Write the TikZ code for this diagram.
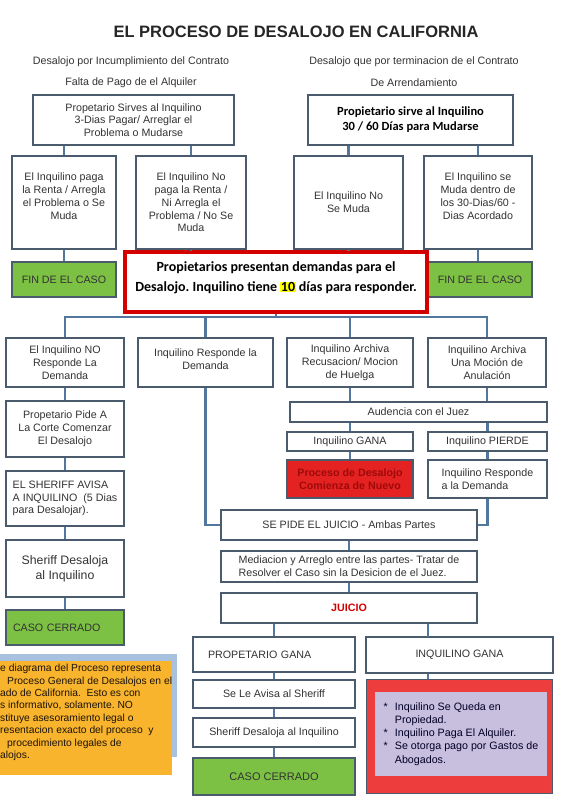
\documentclass[tikz,border=0pt]{standalone}
\usepackage{fontspec}
\setmainfont{Liberation Sans}
\newfontfamily\cali{Carlito}
\definecolor{boxline}{HTML}{4B5B6E}
\definecolor{linkblue}{HTML}{52779F}
\definecolor{inkgray}{HTML}{333333}
\definecolor{grass}{HTML}{7CC144}
\definecolor{alertred}{HTML}{D40000}
\definecolor{nuevored}{HTML}{E52222}
\definecolor{nuevotxt}{HTML}{9E0A0A}
\definecolor{ganared}{HTML}{EE3D3D}
\definecolor{lavender}{HTML}{C8BEDD}
\definecolor{notegold}{HTML}{F8B42C}
\definecolor{noteblue}{HTML}{A7C1DF}
\definecolor{hilite}{HTML}{FFFF00}
\setlength{\fboxsep}{0.6pt}
\frenchspacing

\begin{document}
\begin{tikzpicture}[
  x=1pt, y=-1pt,
  wbox/.style={draw=boxline, line width=1.6pt, fill=white, text=inkgray,
    align=center, inner sep=2pt, font=\fontsize{10.7}{12.8}\selectfont},
  grnbox/.style={wbox, fill=grass},
  link/.style={draw=linkblue, line width=2.8pt},
  hdlbl/.style={font=\fontsize{10.7}{12.8}\selectfont, text=inkgray},
]

% Background
\fill[white] (0,0) rectangle (567,810);
\useasboundingbox (0,0) rectangle (567,810);

% Title
\node[font=\fontsize{16.5}{20}\selectfont\bfseries, text=black!85] (title) at (296,32)
  {EL PROCESO DE DESALOJO EN CALIFORNIA};

\node[hdlbl] (subA) at (131,62) {Desalojo por Incumplimiento del Contrato};
\node[hdlbl] (subB) at (414,62) {Desalojo que por terminacion de el Contrato};
\node[hdlbl] (subA2) at (131,83) {Falta de Pago de el Alquiler};
\node[hdlbl] (subB2) at (414,83) {De Arrendamiento};

% =============================================
% Aviso al inquilino
% =============================================
\node[wbox, minimum width=201, minimum height=50] (propA) at (133.5,120)
  {Propetario Sirves al Inquilino\\3-Dias Pagar/ Arreglar el\\Problema o Mudarse};
\node[wbox, minimum width=205, minimum height=50, text=black,
      font=\cali\bfseries\fontsize{12.5}{15}\selectfont] (propB) at (410.5,120)
  {Propietario sirve al Inquilino\\30 / 60 Días para Mudarse};

\node[wbox, minimum width=104, minimum height=93] (paga) at (64,202.5)
  {El Inquilino paga\\la Renta / Arregla\\el Problema o Se\\Muda\\ \mbox{}};
\node[wbox, minimum width=110, minimum height=93] (nopaga) at (191,202.5)
  {El Inquilino No\\paga la Renta /\\Ni Arregla el\\Problema / No Se\\Muda};
\node[wbox, minimum width=109, minimum height=93] (nomuda) at (348.5,202.5)
  {El Inquilino No\\Se Muda};
\node[wbox, minimum width=108, minimum height=93] (semuda) at (478,202.5)
  {El Inquilino se\\Muda dentro de\\los 30-Dias/60 -\\Dias Acordado\\ \mbox{}};

\node[grnbox, minimum width=104, minimum height=35] (finA) at (64,279.5) {FIN DE EL CASO};
\node[grnbox, minimum width=104, minimum height=35] (finB) at (480,279.5) {FIN DE EL CASO};

\node[wbox, draw=alertred, line width=3.2pt, minimum width=302, minimum height=60, text=black,
      font=\cali\bfseries\fontsize{14}{20}\selectfont] (demanda) at (276,282)
  {Propietarios presentan demandas para el\\Desalojo. Inquilino tiene \colorbox{hilite}{10} días para responder.\\[-9pt]\mbox{}};

\draw[link] (propA.south -| paga.north) -- (paga.north);
\draw[link] (propA.south -| nopaga.north) -- (nopaga.north);
\draw[link] (propB.south -| nomuda.north) -- (nomuda.north);
\draw[link] (propB.south -| semuda.north) -- (semuda.north);
\draw[link] (paga.south) -- (finA.north);
\draw[link] (semuda.south) -- (semuda.south |- finB.north);
\draw[link] (nopaga.south) -- (nopaga.south |- demanda.north);
\draw[link] (nomuda.south) -- (nomuda.south |- demanda.north);

% =============================================
% Respuesta del inquilino
% =============================================
\coordinate (bus) at (276,317);

\node[wbox, minimum width=118, minimum height=49] (noresp) at (65,362.5)
  {El Inquilino NO\\Responde La\\Demanda};
\node[wbox, minimum width=135, minimum height=49] (resp) at (205.5,362.5)
  {Inquilino Responde la\\Demanda\\[-6pt]\mbox{}};
\node[wbox, minimum width=126, minimum height=49] (recus) at (350,362.5)
  {Inquilino Archiva\\Recusacion/ Mocion\\de Huelga};
\node[wbox, minimum width=118, minimum height=49] (anula) at (487,362.5)
  {Inquilino Archiva\\Una Moción de\\Anulación};

\draw[link] (demanda.south) -- (bus);
\draw[link] (noresp.north) -- (noresp.north |- bus) -- (anula.north |- bus) -- (anula.north);
\draw[link] (resp.north) -- (resp.north |- bus);
\draw[link] (recus.north) -- (recus.north |- bus);

% Columna izquierda
\node[wbox, minimum width=118, minimum height=56] (pide) at (65,429)
  {Propetario Pide  A\\La Corte Comenzar\\El Desalojo};
\node[wbox, minimum width=118, minimum height=55, align=left] (avisa) at (65,498.5)
  {EL SHERIFF AVISA\\A INQUILINO~ (5 Dias\\para Desalojar).};
\node[wbox, minimum width=118, minimum height=57, font=\fontsize{12.3}{15}\selectfont] (desaloja) at (65,568.5)
  {Sheriff Desaloja\\al Inquilino};
\node[grnbox, minimum width=118, minimum height=35, text width=104, align=left] (cerradoA) at (65,627.5)
  {CASO CERRADO};

\draw[link] (noresp.south) -- (pide.north);
\draw[link] (pide.south) -- (avisa.north);
\draw[link] (avisa.south) -- (desaloja.north);
\draw[link] (desaloja.south) -- (cerradoA.north);

% Audiencia
\node[wbox, minimum width=257, minimum height=20] (audiencia) at (418.5,412) {Audencia con el Juez};
\node[wbox, minimum width=126, minimum height=19] (gana) at (350,441.5) {Inquilino GANA};
\node[wbox, minimum width=119, minimum height=19] (pierde) at (487.5,441.5) {Inquilino PIERDE};
\node[wbox, fill=nuevored, text=nuevotxt, font=\fontsize{10.7}{12.8}\selectfont\bfseries,
      minimum width=126, minimum height=38] (nuevo) at (350,479) {Proceso de Desalojo\\Comienza de Nuevo};
\node[wbox, minimum width=119, minimum height=38, align=left] (respB) at (487.5,479)
  {Inquilino Responde\\a la Demanda};

\draw[link] (recus.south) -- (recus.south |- audiencia.north);
\draw[link] (anula.south) -- (anula.south |- audiencia.north);
\draw[link] (gana.north |- audiencia.south) -- (gana.north);
\draw[link] (pierde.north |- audiencia.south) -- (pierde.north);
\draw[link] (gana.south) -- (nuevo.north);
\draw[link] (pierde.south) -- (respB.north);

% =============================================
% Juicio
% =============================================
\node[wbox, minimum width=256, minimum height=30] (juicioA) at (349,525) {SE PIDE EL JUICIO - Ambas Partes};
\node[wbox, minimum width=256, minimum height=31, align=left] (mediacion) at (349,566.5)
  {Mediacion y Arreglo entre las partes- Tratar de\\Resolver el Caso sin la Desicion de el Juez.};
\node[wbox, minimum width=256, minimum height=30, text=alertred,
      font=\fontsize{10.7}{12.8}\selectfont\bfseries] (juicio) at (349,608) {JUICIO};

\draw[link] (resp.south) |- (juicioA.west);
\draw[link] (respB.south) |- (juicioA.east);
\draw[link] (juicioA.south) -- (mediacion.north);
\draw[link] (mediacion.south) -- (juicio.north);

% Propietario gana
\node[wbox, minimum width=162, minimum height=35, text width=132, align=left] (propgana) at (274,654.5)
  {PROPETARIO GANA};
\node[wbox, minimum width=162, minimum height=28] (sheriffB) at (274,694) {Se Le Avisa al Sheriff};
\node[wbox, minimum width=162, minimum height=29] (desalojaB) at (274,732.5) {Sheriff Desaloja al Inquilino};
\node[grnbox, minimum width=162, minimum height=37, font=\fontsize{11}{13}\selectfont] (cerradoB) at (274,776.5)
  {CASO CERRADO};

\draw[link] (propgana.north |- juicio.south) -- (propgana.north);
\draw[link] (propgana.south) -- (sheriffB.north);
\draw[link] (sheriffB.south) -- (desalojaB.north);
\draw[link] (desalojaB.south) -- (cerradoB.north);

% Inquilino gana
\coordinate (igtap) at (428,637);
\node[wbox, minimum width=187, minimum height=36] (inqgana) at (459.5,655) {INQUILINO GANA};
\node[wbox, fill=ganared, minimum width=186, minimum height=114] (resultado) at (459.5,736.5) {};
\node[fill=lavender, minimum width=172, minimum height=84, inner sep=0pt, text=black!75!blue!60!black,
      font=\fontsize{10.7}{13.3}\selectfont] (beneficio) at (461,734)
  {\begin{tabular}{@{}l@{\hspace{7pt}}l@{}}
   {*} & Inquilino Se Queda en\\
       & Propiedad.\\
   {*} & Inquilino Paga El Alquiler.\\
   {*} & Se otorga pago por Gastos de\\
       & Abogados.
   \end{tabular}\\[4pt]\mbox{}};

\draw[link] (igtap |- juicio.south) -- (igtap);
\draw[link] (igtap |- inqgana.south) -- (igtap |- resultado.north);

% =============================================
% Nota
% =============================================
\fill[noteblue] (0,654) rectangle (177,757);
\fill[notegold] (0,661) rectangle (172,775);
\node[anchor=north west, inner sep=0pt, align=left, text=black!85!brown,
      font=\fontsize{10.3}{12.4}\selectfont] (nota) at (0,664)
  {e diagrama del Proceso representa\\
   \hspace*{7pt}Proceso General de Desalojos en el\\
   ado de California.~ Esto es con\\
   s informativo, solamente. NO\\
   stituye asesoramiento legal o\\
   resentacion exacto del proceso~ y\\
   \hspace*{7pt}procedimiento legales de\\
   alojos.};

\end{tikzpicture}
\end{document}
